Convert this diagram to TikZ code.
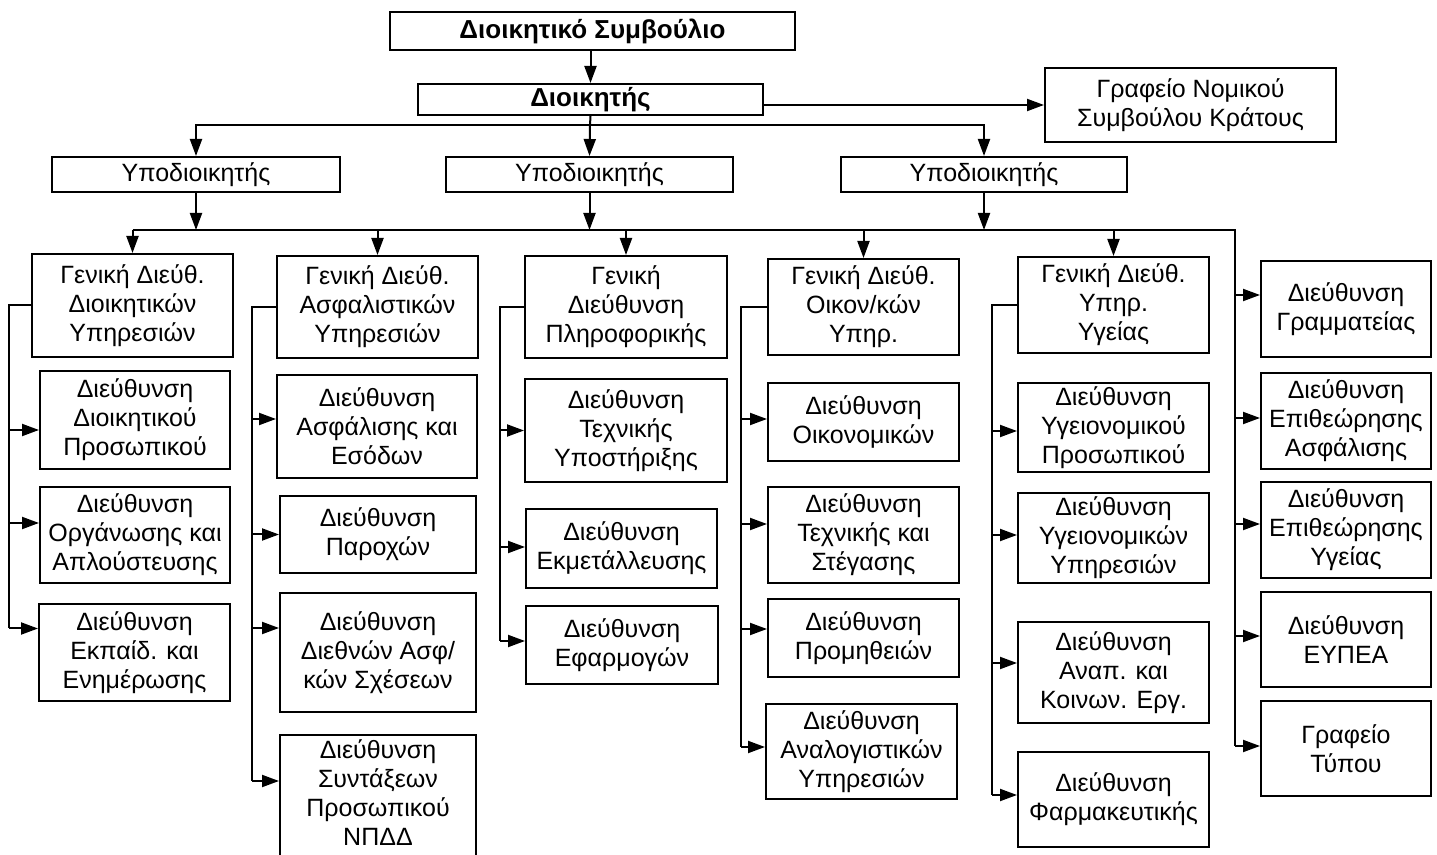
\documentclass[tikz,border=0pt]{standalone}
\usepackage{fontspec}
\setmainfont{Liberation Sans}
\usetikzlibrary{arrows.meta}
\begin{document}
\begin{tikzpicture}[x=0.5pt,y=-0.5pt,
  box/.style={draw=black, line width=1pt, fill=white, inner sep=0pt, align=center,
              font=\fontsize{12.5}{14.5}\selectfont},
  bbox/.style={box, font=\fontsize{13}{15}\selectfont\bfseries},
  pbox/.style n args={4}{minimum width={(#3-#1)*0.5}, minimum height={(#4-#2)*0.5},
              at={({(#1+#3)/2},{(#2+#4)/2})}},
  ln/.style={line width=1pt, draw=black},
  arr/.style={ln, -{Triangle[length=8.5pt,width=6pt]}}]
\useasboundingbox (0,0) rectangle (1437,855);
\clip (0,0) rectangle (1437,855);
\fill[white] (0,0) rectangle (1437,855);

% top
\node[bbox, pbox={390}{12}{795}{50}] (DS) {Διοικητικό Συμβούλιο};
\node[bbox, pbox={418}{84}{763}{115}] (DK) {Διοικητής};
\node[box, pbox={1045}{68}{1336}{142}] (GN) {Γραφείο Νομικού\\Συμβούλου Κράτους};
\node[box, pbox={52}{157}{340}{192}] (Y1) {Υποδιοικητής};
\node[box, pbox={446}{157}{733}{192}] (Y2) {Υποδιοικητής};
\node[box, pbox={841}{157}{1127}{192}] (Y3) {Υποδιοικητής};

% general directorates
\node[box, pbox={32}{254}{233}{357}] (G1) {Γενική Διεύθ.\\Διοικητικών\\Υπηρεσιών};
\node[box, pbox={277}{256}{478}{358}] (G2) {Γενική Διεύθ.\\Ασφαλιστικών\\Υπηρεσιών};
\node[box, pbox={525}{256}{727}{358}] (G3) {Γενική\\Διεύθυνση\\Πληροφορικής};
\node[box, pbox={768}{259}{959}{355}] (G4) {Γενική Διεύθ.\\Οικον/κών\\Υπηρ.};
\node[box, pbox={1018}{257}{1209}{353}] (G5) {Γενική Διεύθ.\\Υπηρ.\\Υγείας};

% column 1
\node[box, pbox={40}{371}{230}{469}] (D1a) {Διεύθυνση\\Διοικητικού\\Προσωπικού};
\node[box, pbox={40}{487}{230}{583}] (D1b) {Διεύθυνση\\Οργάνωσης και\\Απλούστευσης};
\node[box, pbox={39}{604}{230}{701}] (D1c) {Διεύθυνση\\Εκπαίδ. και\\Ενημέρωσης};
% column 2
\node[box, pbox={277}{375}{477}{478}] (D2a) {Διεύθυνση\\Ασφάλισης και\\Εσόδων};
\node[box, pbox={280}{496}{476}{573}] (D2b) {Διεύθυνση\\Παροχών};
\node[box, pbox={280}{593}{476}{712}] (D2c) {Διεύθυνση\\Διεθνών Ασφ/\\κών Σχέσεων};
\node[box, pbox={280}{735}{476}{870}, text depth=9.5pt] (D2d) {Διεύθυνση\\Συντάξεων\\Προσωπικού\\ΝΠΔΔ};
% column 3
\node[box, pbox={525}{379}{727}{482}] (D3a) {Διεύθυνση\\Τεχνικής\\Υποστήριξης};
\node[box, pbox={526}{509}{717}{588}] (D3b) {Διεύθυνση\\Εκμετάλλευσης};
\node[box, pbox={526}{606}{718}{684}] (D3c) {Διεύθυνση\\Εφαρμογών};
% column 4
\node[box, pbox={768}{383}{959}{461}] (D4a) {Διεύθυνση\\Οικονομικών};
\node[box, pbox={768}{487}{959}{583}] (D4b) {Διεύθυνση\\Τεχνικής και\\Στέγασης};
\node[box, pbox={768}{599}{959}{677}] (D4c) {Διεύθυνση\\Προμηθειών};
\node[box, pbox={766}{704}{957}{799}] (D4d) {Διεύθυνση\\Αναλογιστικών\\Υπηρεσιών};
% column 5
\node[box, pbox={1018}{383}{1209}{472}] (D5a) {Διεύθυνση\\Υγειονομικού\\Προσωπικού};
\node[box, pbox={1018}{493}{1209}{583}] (D5b) {Διεύθυνση\\Υγειονομικών\\Υπηρεσιών};
\node[box, pbox={1018}{622}{1209}{723}] (D5c) {Διεύθυνση\\Αναπ. και\\Κοινων. Εργ.};
\node[box, pbox={1018}{752}{1209}{847}] (D5d) {Διεύθυνση\\Φαρμακευτικής};
% right column
\node[box, pbox={1261}{261}{1431}{357}] (R1) {Διεύθυνση\\Γραμματείας};
\node[box, pbox={1261}{373}{1431}{469}] (R2) {Διεύθυνση\\Επιθεώρησης\\Ασφάλισης};
\node[box, pbox={1261}{482}{1431}{578}] (R3) {Διεύθυνση\\Επιθεώρησης\\Υγείας};
\node[box, pbox={1261}{592}{1431}{687}] (R4) {Διεύθυνση\\ΕΥΠΕΑ};
\node[box, pbox={1261}{701}{1431}{796}] (R5) {Γραφείο\\Τύπου};

% top connectors
\draw[arr] (DK.north |- DS.south) -- (DK.north);
\draw[arr] (DK.east |- GN.west) -- (GN.west);
\coordinate (b1) at (590,125);
\draw[ln] (DK.south) -- (b1);
\draw[arr] (b1) -- (Y2.north);
\draw[arr] (b1) -| (Y1.north);
\draw[arr] (b1) -| (Y3.north);

% second bus
\coordinate (b2) at (1235,230);
\coordinate (rb) at (1235,746);
\draw[arr] (Y1.south) -- (Y1.south |- b2);
\draw[arr] (Y2.south) -- (Y2.south |- b2);
\draw[arr] (Y3.south) -- (Y3.south |- b2);
\draw[ln] (G1.north |- b2) -- (b2) -- (rb);
\foreach \g in {G1,G2,G3,G4,G5}
  \draw[arr] (\g.north |- b2) -- (\g.north);

% column 1
\coordinate (a1a) at ([yshift=-5pt]D1a.west);
\coordinate (a1b) at ([yshift=6pt]D1b.west);
\coordinate (a1c) at ([yshift=12pt]D1c.west);
\coordinate (t1) at (9,628);
\draw[ln] (G1.west) -| (t1);
\foreach \a in {a1a,a1b,a1c} \draw[arr] (t1 |- \a) -- (\a);

% column 2
\coordinate (a2a) at ([yshift=3.75pt]D2a.west);
\coordinate (a2b) at (D2b.west);
\coordinate (a2c) at ([yshift=12.25pt]D2c.west);
\coordinate (a2d) at ([yshift=10.75pt]D2d.west);
\coordinate (t2) at (252,781);
\draw[ln] (G2.west) -| (t2);
\foreach \a in {a2a,a2b,a2c,a2d} \draw[arr] (t2 |- \a) -- (\a);

% column 3
\coordinate (a3a) at (D3a.west);
\coordinate (a3b) at ([yshift=0.75pt]D3b.west);
\coordinate (a3c) at ([yshift=2pt]D3c.west);
\coordinate (t3) at (500,641);
\draw[ln] (G3.west) -| (t3);
\foreach \a in {a3a,a3b,a3c} \draw[arr] (t3 |- \a) -- (\a);

% column 4
\coordinate (a4a) at ([yshift=1.5pt]D4a.west);
\coordinate (a4b) at ([yshift=5.5pt]D4b.west);
\coordinate (a4c) at ([yshift=4.5pt]D4c.west);
\coordinate (a4d) at ([yshift=2.25pt]D4d.west);
\coordinate (t4) at (741,747);
\draw[ln] (G4.west) -| (t4);
\foreach \a in {a4a,a4b,a4c,a4d} \draw[arr] (t4 |- \a) -- (\a);

% column 5
\coordinate (a5a) at ([yshift=-1.75pt]D5a.west);
\coordinate (a5b) at ([yshift=1.5pt]D5b.west);
\coordinate (a5c) at ([yshift=4.75pt]D5c.west);
\coordinate (a5d) at ([yshift=2.25pt]D5d.west);
\coordinate (t5) at (992,795);
\draw[ln] (G5.west) -| (t5);
\foreach \a in {a5a,a5b,a5c,a5d} \draw[arr] (t5 |- \a) -- (\a);

% right column
\coordinate (r1) at ([yshift=7pt]R1.west);
\coordinate (r2) at ([yshift=1.5pt]R2.west);
\coordinate (r3) at ([yshift=3pt]R3.west);
\coordinate (r4) at ([yshift=1.75pt]R4.west);
\coordinate (r5) at ([yshift=1.25pt]R5.west);
\foreach \a in {r1,r2,r3,r4,r5} \draw[arr] (b2 |- \a) -- (\a);
\end{tikzpicture}
\end{document}
